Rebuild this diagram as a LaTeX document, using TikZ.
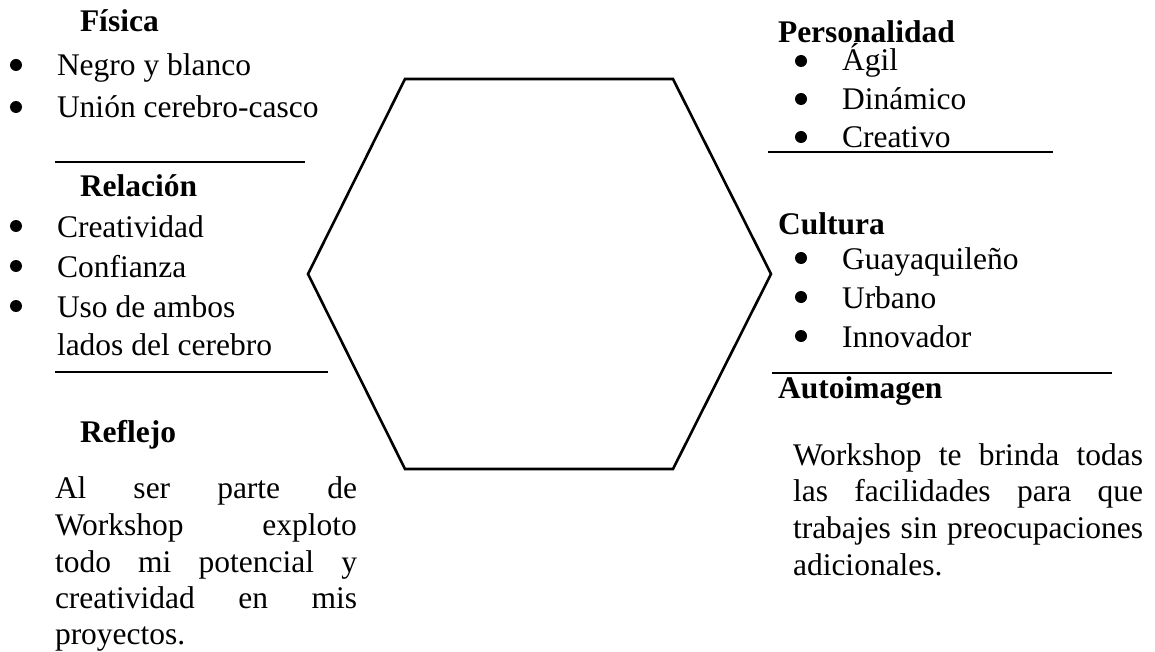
\documentclass[tikz,border=0pt]{standalone}
\usepackage{fontspec}
\setmainfont{Liberation Serif}
\newcommand\dfont{\fontsize{31.5}{36.5}\selectfont}
\tikzset{
  txt/.style={anchor=base west, inner sep=0pt, outer sep=0pt, font=\dfont},
  hd/.style={txt, font=\dfont\bfseries},
  rulel/.style={line width=1.3pt},
  hexl/.style={line width=2.6pt, line join=miter},
  bul/.style={fill=black}
}
\begin{document}
\begin{tikzpicture}[x=1pt,y=-1pt]
\useasboundingbox (0,0) rectangle (1155,652);
% hexagon
\coordinate (h1) at (405,79);
\coordinate (h2) at (673,79);
\coordinate (h3) at (771,274);
\coordinate (h4) at (673,469);
\coordinate (h5) at (405,469);
\coordinate (h6) at (308,274);
\draw[hexl] (h1) -- (h2) -- (h3) -- (h4) -- (h5) -- (h6) -- cycle;

% left column
\node[hd] (fis) at (80,32) {Física};
\fill[bul] (16,65) circle (6);
\node[txt] (f1) at (57,76) {Negro y blanco};
\fill[bul] (16,107) circle (6);
\node[txt] (f2) at (57,118) {Unión cerebro-casco};
\coordinate (l1a) at (55,162); \coordinate (l1b) at (305,162);
\draw[rulel] (l1a) -- (l1b);

\node[hd] (rel) at (80,197) {Relación};
\fill[bul] (16,226) circle (6);
\node[txt] (r1) at (57,237) {Creatividad};
\fill[bul] (16,266) circle (6);
\node[txt] (r2) at (57,277) {Confianza};
\fill[bul] (16,306) circle (6);
\node[txt] (r3) at (57,317) {Uso de ambos};
\node[txt] (r4) at (57,355) {lados del cerebro};
\coordinate (l2a) at (55,372); \coordinate (l2b) at (328,372);
\draw[rulel] (l2a) -- (l2b);

\node[hd] (ref) at (80,442) {Reflejo};
\node[txt] (p1) at (55,498) {\makebox[302pt][s]{Al ser parte de}};
\node[txt] (p2) at (55,535) {\makebox[302pt][s]{Workshop exploto}};
\node[txt] (p3) at (55,572) {\makebox[302pt][s]{todo mi potencial y}};
\node[txt] (p4) at (55,608) {\makebox[302pt][s]{creatividad en mis}};
\node[txt] (p5) at (55,644) {proyectos.};

% right column
\node[hd] (per) at (778,43) {Personalidad};
\fill[bul] (801,61) circle (6);
\node[txt] (e1) at (842,71) {Ágil};
\fill[bul] (801,99) circle (6);
\node[txt] (e2) at (842,110) {Dinámico};
\fill[bul] (801,137) circle (6);
\node[txt] (e3) at (842,148) {Creativo};
\coordinate (l3a) at (768,152); \coordinate (l3b) at (1053,152);
\draw[rulel] (l3a) -- (l3b);

\node[hd] (cul) at (778,235) {Cultura};
\fill[bul] (801,258) circle (6);
\node[txt] (c1) at (842,269) {Guayaquileño};
\fill[bul] (801,297) circle (6);
\node[txt] (c2) at (842,308) {Urbano};
\fill[bul] (801,336) circle (6);
\node[txt] (c3) at (842,347) {Innovador};
\coordinate (l4a) at (772,373); \coordinate (l4b) at (1112,373);
\draw[rulel] (l4a) -- (l4b);

\node[hd] (aut) at (778,398) {Autoimagen};
\node[txt] (a1) at (793,465) {\makebox[350pt][s]{Workshop te brinda todas}};
\node[txt] (a2) at (793,501) {\makebox[350pt][s]{las facilidades para que}};
\node[txt] (a3) at (793,538) {\makebox[350pt][s]{trabajes sin preocupaciones}};
\node[txt] (a4) at (793,575) {adicionales.};
\end{tikzpicture}
\end{document}
